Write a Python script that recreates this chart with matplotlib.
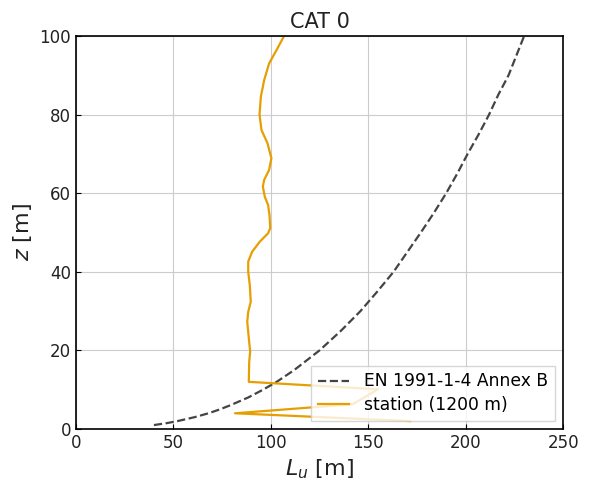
import matplotlib
matplotlib.use("Agg")
import matplotlib.pyplot as plt

# EN 1991-1-4 Annex B profile
z_en = [1, 1.5, 2, 3, 4, 5, 6, 8, 10, 12, 15, 20, 25, 30, 35, 40, 45, 50,
        55, 60, 65, 70, 75, 80, 85, 90, 95, 100]
lu_en = [40, 46.7, 52, 60.8, 68, 73.9, 79, 88.3, 96, 103, 112, 125, 136, 146, 154.7, 163, 170, 177,
         183.7, 190, 195.7, 201, 206.7, 212, 216.7, 222, 226, 230]

# station profile (1200 m)
z_st = [2, 4, 6.3, 10.1, 12, 17.1, 19.7, 23.1, 27.3, 29.8, 32.4, 36.6, 40, 42.6, 45.1,
        47.7, 49.8, 51.1, 54.5, 57, 59.1, 61.7, 63.4, 65.9, 68.9, 72.7, 76.1, 80,
        84.6, 88.8, 93, 96.4, 100]
lu_st = [171.5, 81.6, 142, 155, 88.7, 88.9, 89.4, 88.7, 87.9, 88.4, 89.7, 89.2, 88.4, 88.4, 90.4,
         94.4, 98.6, 99.7, 99.3, 98.6, 96.9, 95.9, 96.6, 99.1, 100.3, 98.3, 95.2, 94.2,
         94.9, 96.6, 99.1, 102.9, 106.8]

fig = plt.figure(figsize=(5.89, 4.9), dpi=100)
ax = fig.add_axes([0.129, 0.1245, 0.827, 0.802])

ax.plot(lu_en, z_en, color="#444444", linestyle="--", linewidth=1.6, label="EN 1991-1-4 Annex B")
ax.plot(lu_st, z_st, color="#E69F00", linewidth=1.6, label="station (1200 m)")

ax.set_xlim(0, 250)
ax.set_ylim(0, 100)
ax.set_xticks([0, 50, 100, 150, 200, 250])
ax.set_yticks([0, 20, 40, 60, 80, 100])
ax.grid(True, color="#cccccc", linewidth=0.8)
ax.tick_params(direction="in", labelsize=12, colors="black", labelcolor="#222222")
for s in ax.spines.values():
    s.set_color("black")
    s.set_linewidth(1.2)

ax.set_xlabel(r"$L_u$ [m]", fontsize=16, color="#222222")
ax.set_ylabel(r"$z$ [m]", fontsize=16, color="#222222")
ax.set_title("CAT 0", fontsize=15, color="#222222")
ax.legend(loc="lower right", fontsize=12.3, fancybox=False, framealpha=0.8,
          edgecolor="#cccccc", labelspacing=0.35, handlelength=1.8,
          handletextpad=0.9, borderaxespad=0.45)

fig.savefig("out.png", dpi=100)
